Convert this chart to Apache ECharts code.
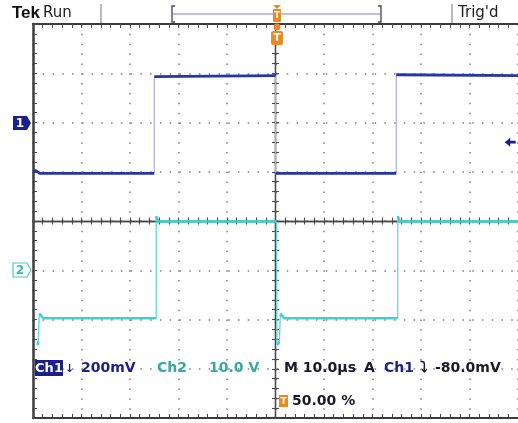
<!DOCTYPE html>
<html><head><meta charset="utf-8">
<script src="https://cdn.jsdelivr.net/npm/echarts@6/dist/echarts.min.js"></script>
<style>html,body{margin:0;padding:0;background:#fff}#c{width:518px;height:423px}</style>
</head><body><div id="c"></div><script>
// ---- data (time in µs, relative to trigger) ----
const timeRange = [-50, 50];          // 10 div x 10.0 µs
const timeStep = 10;
const ch1VoltsPerDiv = 0.2;           // 200 mV/div
const ch2VoltsPerDiv = 10;            // 10.0 V/div
const ch1Offset = 2;                  // ground marker, divisions above centre
const ch2Offset = -1;
const trigLevel = -0.08;              // -80.0 mV on Ch1
const trigMarkerTime = 48.4;

const ch1Time  = [-50, -49.4, -48.6, -25.0, -25.0, -24.6, 0.0, 0.0, 24.9, 24.9, 25.3, 50];
const ch1Volts = [-0.200, -0.195, -0.207, -0.207, 0.186, 0.190, 0.190, -0.207, -0.207, 0.194, 0.190, 0.190];

const ch2Time  = [-49.1, -48.9, -48.7, -47.9, -24.6, -24.6, -24.2, 0.2, 0.3, 0.8, 1.0, 1.8, 25.2, 25.2, 25.6, 50];
const ch2Volts = [-15.2, -14.5, -8.8, -9.75, -9.75, 11.0, 9.9, 9.9, -15.2, -14.5, -8.8, -9.75, -9.75, 11.0, 9.9, 9.9];

// ---- helpers ----
function splitTrace(time, volts, perDiv) {
  const levels = [], edges = [];
  let prevType = null;
  for (let i = 0; i < time.length - 1; i++) {
    const a = [time[i], volts[i]], b = [time[i + 1], volts[i + 1]];
    const type = Math.abs(volts[i + 1] - volts[i]) / perDiv > 0.3 ? 'e' : 'l';
    const arr = type === 'e' ? edges : levels;
    if (prevType !== type) { if (arr.length) arr.push([a[0], '-']); arr.push(a); }
    arr.push(b);
    prevType = type;
  }
  return { levels, edges };
}
const ch1 = splitTrace(ch1Time, ch1Volts, ch1VoltsPerDiv);
const ch2 = splitTrace(ch2Time, ch2Volts, ch2VoltsPerDiv);

const BORDER = '#3c3c3c', TICK = '#4a4a4a', DOT = '#7e7e7e';
const NAVY = '#1c1f8e', TEAL = '#36a9a2', ORANGE = '#ea8a22';
const FONT = '"DejaVu Sans", sans-serif';
const RFONT = 'bold 14px ' + FONT;

function xAx(o) {
  return Object.assign({
    type: 'value', min: timeRange[0], max: timeRange[1], interval: timeStep,
    axisLabel: { show: false }, splitLine: { show: false },
    axisLine: { show: true, onZero: false, lineStyle: { color: BORDER, width: 2 } },
    axisTick: { show: true, inside: true, length: 4, lineStyle: { color: TICK, width: 1 } },
    minorTick: { show: true, splitNumber: 5, length: 4, lineStyle: { color: TICK, width: 1 } }
  }, o);
}
function yAx(o) {
  return Object.assign({
    type: 'value', min: -4, max: 4, interval: 1,
    axisLabel: { show: false }, splitLine: { show: false },
    axisLine: { show: true, onZero: false, lineStyle: { color: BORDER, width: 2.5 } },
    axisTick: { show: true, inside: true, length: 4, lineStyle: { color: TICK, width: 1 } },
    minorTick: { show: true, splitNumber: 5, length: 4, lineStyle: { color: TICK, width: 1 } }
  }, o);
}
const centerLine = { show: true, onZero: true, onZeroAxisIndex: 0, lineStyle: { color: '#4a4a4a', width: 1.3 } };
const cTick = (inside) => ({ show: true, inside: inside, length: 3.5, lineStyle: { color: TICK, width: 1.1 } });
const cMinor = { show: true, splitNumber: 5, length: 3.5, lineStyle: { color: TICK, width: 1.1 } };

const option = {
  animation: false,
  backgroundColor: '#fff',
  grid: { left: 33, top: 24, width: 488, height: 394, containLabel: false },
  xAxis: [
    xAx({ position: 'bottom', splitLine: { show: true, lineStyle: { color: DOT, width: 1.5, type: [1.5, 8.35] } } }),
    xAx({ position: 'top' }),
    xAx({ position: 'bottom', axisLine: centerLine, axisTick: cTick(true), minorTick: cMinor }),
    xAx({ position: 'bottom', axisLine: centerLine, axisTick: cTick(false), minorTick: cMinor })
  ],
  yAxis: [
    yAx({ position: 'left', splitLine: { show: true, lineStyle: { color: DOT, width: 1.5, type: [1.5, 8.26] } } }),
    yAx({ position: 'left', axisLine: centerLine, axisTick: cTick(true), minorTick: cMinor }),
    yAx({ position: 'left', axisLine: centerLine, axisTick: cTick(false), minorTick: cMinor }),
    { type: 'value', show: false, min: (-4 - ch1Offset) * ch1VoltsPerDiv, max: (4 - ch1Offset) * ch1VoltsPerDiv, splitLine: { show: false } },
    { type: 'value', show: false, min: (-4 - ch2Offset) * ch2VoltsPerDiv, max: (4 - ch2Offset) * ch2VoltsPerDiv, splitLine: { show: false } }
  ],
  series: [
    { type: 'line', xAxisIndex: 0, yAxisIndex: 3, data: ch1.edges, showSymbol: false, silent: true, z: 3,
      lineStyle: { color: '#a7ace6', width: 1.2 }, connectNulls: false },
    { type: 'line', xAxisIndex: 0, yAxisIndex: 3, data: ch1.levels, showSymbol: false, silent: true, z: 4,
      lineStyle: { color: '#2536a6', width: 2.8 }, connectNulls: false,
      markPoint: { silent: true, symbol: 'path://M0,5 L6,0 L6,3.5 L12,3.5 L12,6.5 L6,6.5 L6,10 Z', symbolSize: [11, 9],
        itemStyle: { color: NAVY }, label: { show: false },
        data: [{ coord: [trigMarkerTime, trigLevel] }] } },
    { type: 'line', xAxisIndex: 0, yAxisIndex: 4, data: ch2.edges, showSymbol: false, silent: true, z: 3,
      lineStyle: { color: '#5cdada', width: 1.3 }, connectNulls: false },
    { type: 'line', xAxisIndex: 0, yAxisIndex: 4, data: ch2.levels, showSymbol: false, silent: true, z: 4,
      lineStyle: { color: '#3fcfd0', width: 2.5 }, connectNulls: false }
  ],
  graphic: [
    // status bar
    { type: 'text', x: 12, y: 13, style: { text: 'Tek', font: 'bold 17px "Liberation Sans", sans-serif', fill: '#111', verticalAlign: 'middle', textVerticalAlign: 'middle' } },
    { type: 'text', x: 43, y: 13, style: { text: 'Run', font: '15px ' + FONT, fill: '#222', verticalAlign: 'middle', textVerticalAlign: 'middle' } },
    { type: 'line', shape: { x1: 101, y1: 4, x2: 101, y2: 24 }, style: { stroke: '#777', lineWidth: 1 } },
    { type: 'polyline', shape: { points: [[175, 6], [172, 6], [172, 22], [175, 22]] }, style: { stroke: '#444', lineWidth: 1.3, fill: null } },
    { type: 'polyline', shape: { points: [[378, 6], [381, 6], [381, 22], [378, 22]] }, style: { stroke: '#444', lineWidth: 1.3, fill: null } },
    { type: 'line', shape: { x1: 173, y1: 14, x2: 380, y2: 14 }, style: { stroke: '#7f7fdc', lineWidth: 1.2 } },
    { type: 'polygon', shape: { points: [[273, 5], [281, 5], [277, 9]] }, style: { fill: ORANGE } },
    { type: 'rect', shape: { x: 273, y: 9, width: 8, height: 13, r: 1 }, style: { fill: ORANGE } },
    { type: 'text', x: 277, y: 16, style: { text: 'T', font: 'bold 9px ' + FONT, fill: '#fff', align: 'center', textAlign: 'center', verticalAlign: 'middle', textVerticalAlign: 'middle' } },
    { type: 'line', shape: { x1: 452, y1: 4, x2: 452, y2: 24 }, style: { stroke: '#777', lineWidth: 1 } },
    { type: 'text', x: 458, y: 13, style: { text: "Trig'd", font: '15px ' + FONT, fill: '#222', verticalAlign: 'middle', textVerticalAlign: 'middle' } },
    // trigger position marker
    { type: 'circle', shape: { cx: 277, cy: 27, r: 3.5 }, style: { fill: ORANGE }, z: 10 },
    { type: 'rect', shape: { x: 271, y: 31, width: 12, height: 14, r: 2 }, style: { fill: ORANGE }, z: 10 },
    { type: 'text', x: 277, y: 38.5, z: 11, style: { text: 'T', font: 'bold 11px ' + FONT, fill: '#fff', align: 'center', textAlign: 'center', verticalAlign: 'middle', textVerticalAlign: 'middle' } },
    // channel ground markers
    { type: 'polygon', shape: { points: [[13, 116], [27, 116], [31, 123], [27, 130], [13, 130]] }, style: { fill: NAVY } },
    { type: 'text', x: 20, y: 123.5, style: { text: '1', font: 'bold 12px ' + FONT, fill: '#fff', align: 'center', textAlign: 'center', verticalAlign: 'middle', textVerticalAlign: 'middle' } },
    { type: 'polygon', shape: { points: [[13, 263], [27, 263], [31, 270], [27, 277], [13, 277]] }, style: { fill: '#fff', stroke: '#4cc8c8', lineWidth: 1.2 } },
    { type: 'text', x: 20, y: 270.5, style: { text: '2', font: 'bold 12px ' + FONT, fill: '#39b9b6', align: 'center', textAlign: 'center', verticalAlign: 'middle', textVerticalAlign: 'middle' } },
    // readouts
    { type: 'rect', shape: { x: 35, y: 360, width: 28, height: 16 }, style: { fill: NAVY }, z: 10 },
    { type: 'text', x: 49, y: 368.5, z: 11, style: { text: 'Ch1', font: 'bold 13px ' + FONT, fill: '#fff', align: 'center', textAlign: 'center', verticalAlign: 'middle', textVerticalAlign: 'middle' } },
    { type: 'text', x: 65, y: 369, z: 11, style: { text: '↓', font: 'bold 11px ' + FONT, fill: NAVY, verticalAlign: 'middle', textVerticalAlign: 'middle' } },
    { type: 'text', x: 81, y: 368, z: 11, style: { text: '200mV', font: RFONT, fill: NAVY, verticalAlign: 'middle', textVerticalAlign: 'middle' } },
    { type: 'text', x: 157, y: 368, z: 11, style: { text: 'Ch2', font: RFONT, fill: TEAL, verticalAlign: 'middle', textVerticalAlign: 'middle' } },
    { type: 'text', x: 209, y: 368, z: 11, style: { text: '10.0 V', font: RFONT, fill: TEAL, verticalAlign: 'middle', textVerticalAlign: 'middle' } },
    { type: 'text', x: 284, y: 368, z: 11, style: { text: 'M 10.0µs', font: RFONT, fill: '#1a1a2a', verticalAlign: 'middle', textVerticalAlign: 'middle' } },
    { type: 'text', x: 364, y: 368, z: 11, style: { text: 'A', font: RFONT, fill: '#1a1a2a', verticalAlign: 'middle', textVerticalAlign: 'middle' } },
    { type: 'text', x: 384, y: 368, z: 11, style: { text: 'Ch1', font: RFONT, fill: NAVY, verticalAlign: 'middle', textVerticalAlign: 'middle' } },
    { type: 'text', x: 420, y: 368, z: 11, style: { text: '⤵', font: 'bold 15px ' + FONT, fill: '#1a1a2a', verticalAlign: 'middle', textVerticalAlign: 'middle' } },
    { type: 'text', x: 435, y: 368, z: 11, style: { text: '-80.0mV', font: RFONT, fill: '#1a1a2a', verticalAlign: 'middle', textVerticalAlign: 'middle' } },
    { type: 'rect', shape: { x: 279, y: 395, width: 9, height: 12 }, style: { fill: ORANGE }, z: 10 },
    { type: 'text', x: 283.5, y: 401.5, z: 11, style: { text: 'T', font: 'bold 9px ' + FONT, fill: '#fff', align: 'center', textAlign: 'center', verticalAlign: 'middle', textVerticalAlign: 'middle' } },
    { type: 'text', x: 292, y: 401, z: 11, style: { text: '50.00 %', font: RFONT, fill: '#1a1a2a', verticalAlign: 'middle', textVerticalAlign: 'middle' } }
  ]
};
const chart = echarts.init(document.getElementById('c'));
chart.setOption(option);
</script></body></html>
